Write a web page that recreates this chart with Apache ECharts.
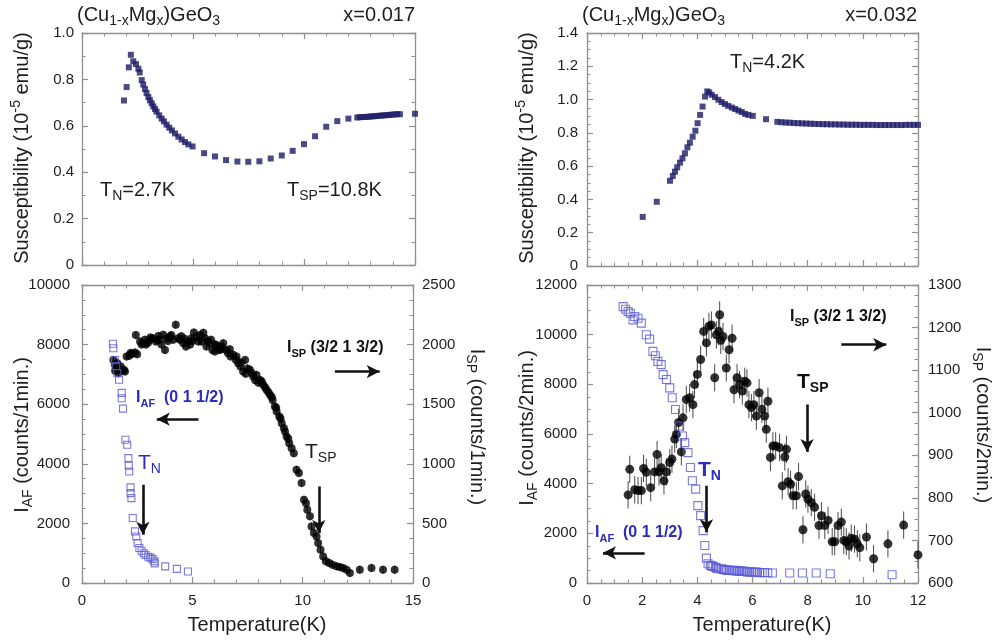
<!DOCTYPE html>
<html><head><meta charset="utf-8">
<script src="https://cdn.jsdelivr.net/npm/echarts/dist/echarts.min.js"></script>
<style>html,body{margin:0;padding:0;background:#fff;}#c{width:994px;height:643px;}</style>
</head><body><div id="c"></div>
<script>
// ---------- DATA ----------
// Susceptibility, x = 0.017  [T (K), chi (1e-5 emu/g)]
const chi017 = [[1.89,0.709],[2.01,0.767],[2.11,0.852],[2.20,0.906],[2.31,0.878],[2.43,0.866],[2.54,0.846],[2.60,0.830],[2.69,0.797],[2.76,0.778],[2.84,0.758],[2.91,0.741],[2.99,0.724],[3.06,0.710],[3.14,0.697],[3.21,0.684],[3.29,0.672],[3.36,0.661],[3.48,0.645],[3.59,0.631],[3.69,0.619],[3.81,0.605],[3.93,0.592],[4.05,0.580],[4.19,0.567],[4.34,0.553],[4.49,0.541],[4.64,0.530],[4.79,0.520],[4.98,0.511],[5.50,0.482],[5.99,0.468],[6.49,0.452],[7.00,0.446],[7.49,0.445],[7.99,0.447],[8.50,0.459],[9.00,0.472],[9.49,0.492],[10.00,0.521],[10.50,0.555],[11.00,0.596],[11.50,0.620],[12.00,0.631],[12.40,0.636],[12.52,0.637],[12.64,0.638],[12.76,0.638],[12.88,0.639],[13.00,0.640],[13.12,0.641],[13.24,0.642],[13.36,0.643],[13.48,0.644],[13.60,0.645],[13.72,0.646],[13.84,0.647],[13.96,0.648],[14.08,0.649],[14.20,0.650],[14.32,0.650],[15.00,0.652]];
// Susceptibility, x = 0.032
const chi032 = [[2.02,0.295],[2.53,0.386],[3.01,0.512],[3.11,0.541],[3.19,0.567],[3.27,0.593],[3.37,0.621],[3.46,0.647],[3.55,0.677],[3.64,0.713],[3.73,0.741],[3.83,0.777],[3.93,0.813],[4.01,0.858],[4.10,0.908],[4.19,0.958],[4.28,1.018],[4.36,1.049],[4.43,1.043],[4.52,1.029],[4.64,1.015],[4.76,0.999],[4.88,0.985],[5.00,0.973],[5.12,0.962],[5.25,0.952],[5.37,0.943],[5.49,0.934],[5.61,0.925],[5.73,0.914],[5.85,0.908],[6.01,0.902],[6.49,0.882],[6.90,0.866],[7.05,0.864],[7.20,0.862],[7.35,0.861],[7.50,0.859],[7.65,0.858],[7.80,0.857],[7.95,0.856],[8.10,0.855],[8.25,0.854],[8.40,0.853],[8.55,0.852],[8.70,0.852],[8.85,0.851],[9.00,0.851],[9.15,0.850],[9.30,0.850],[9.45,0.849],[9.60,0.849],[9.75,0.849],[9.90,0.848],[10.05,0.848],[10.20,0.848],[10.35,0.848],[10.50,0.847],[10.65,0.847],[10.80,0.847],[10.95,0.847],[11.10,0.847],[11.25,0.847],[11.40,0.847],[11.55,0.848],[11.70,0.848],[11.85,0.848],[12.00,0.848]];
// I_AF (0 1 1/2), x = 0.017, counts/1min  (left axis)
const iaf017 = [[1.40,8030],[1.42,7880],[1.49,7480],[1.55,7280],[1.60,7040],[1.68,6820],[1.80,6380],[1.80,6200],[1.86,5850],[1.97,4805],[2.05,4640],[2.10,4190],[2.12,3940],[2.14,3743],[2.20,3210],[2.20,3017],[2.24,2849],[2.30,2179],[2.40,1732],[2.46,1560],[2.52,1341],[2.60,1173],[2.70,1080],[2.80,1000],[2.88,940],[3.00,880],[3.10,850],[3.20,800],[3.28,726],[3.30,660],[3.77,559],[4.30,475],[4.80,385]];
// I_SP (3/2 1 3/2), x = 0.017, counts/1min  (right axis)
const isp017 = [[1.42,1871],[1.49,1830],[1.50,1780],[1.54,1802],[1.60,1844],[1.65,1760],[1.69,1794],[1.75,1816],[1.84,1783],[1.90,1790],[1.95,1775],[2.02,1900],[2.14,1906],[2.20,1930],[2.25,1922],[2.40,1933],[2.44,2080],[2.50,1920],[2.63,2026],[2.70,2000],[2.78,2012],[2.85,2040],[2.90,2000],[3.00,2018],[3.08,2040],[3.10,2060],[3.20,2054],[3.35,2026],[3.40,2040],[3.46,2073],[3.53,2040],[3.60,2000],[3.68,2082],[3.76,1955],[3.86,2054],[3.90,2030],[3.98,2068],[4.05,2080],[4.13,2040],[4.25,2166],[4.36,2054],[4.44,2040],[4.50,2070],[4.59,2012],[4.65,2050],[4.71,1984],[4.81,2026],[4.90,2000],[4.96,2054],[5.00,2030],[5.07,2101],[5.19,2068],[5.27,2026],[5.35,2080],[5.42,2026],[5.50,2100],[5.57,2054],[5.64,1984],[5.70,2030],[5.79,2012],[5.85,2040],[5.91,1955],[6.02,1942],[6.05,2000],[6.10,1990],[6.22,1955],[6.30,1960],[6.32,1984],[6.40,2012],[6.52,1955],[6.62,1928],[6.70,1960],[6.73,1900],[6.85,1914],[6.97,1872],[7.00,1900],[7.08,1844],[7.18,1816],[7.20,1850],[7.30,1774],[7.39,1871],[7.42,1755],[7.50,1800],[7.61,1788],[7.70,1760],[7.76,1732],[7.85,1700],[7.91,1746],[8.00,1680],[8.07,1704],[8.15,1690],[8.22,1662],[8.30,1640],[8.37,1620],[8.45,1600],[8.52,1578],[8.60,1560],[8.64,1536],[8.74,1480],[8.80,1470],[8.82,1438],[8.94,1397],[9.00,1380],[9.05,1341],[9.15,1299],[9.20,1270],[9.27,1229],[9.35,1210],[9.39,1173],[9.50,1131],[9.60,1089],[9.72,950],[9.83,922],[9.95,838],[10.06,698],[10.15,670],[10.21,614],[10.33,559],[10.40,475],[10.51,419],[10.63,391],[10.70,335],[10.81,279],[10.93,223],[11.05,182],[11.20,168],[11.35,154],[11.53,140],[11.68,134],[11.83,126],[11.99,112],[12.14,84],[12.59,112],[13.12,126],[13.64,112],[14.17,112]];
// I_AF (0 1 1/2), x = 0.032, counts/2min  (left axis)
const iaf032 = [[1.31,11131],[1.40,11024],[1.49,10931],[1.57,10864],[1.67,10597],[1.73,10731],[1.85,10664],[1.97,10463],[2.15,9996],[2.27,9822],[2.39,9327],[2.48,9154],[2.57,8926],[2.69,8793],[2.76,8392],[2.88,8192],[3.00,7857],[3.09,7457],[3.21,6989],[3.36,6321],[3.46,5920],[3.54,5652],[3.66,5252],[3.75,4650],[3.82,4116],[3.94,3782],[4.02,3114],[4.12,2713],[4.21,2111],[4.27,1510],[4.33,1002],[4.39,775],[4.47,708],[4.52,690],[4.57,668],[4.66,628],[4.70,600],[4.75,575],[4.87,575],[4.93,550],[4.99,535],[5.05,520],[5.11,508],[5.17,510],[5.23,508],[5.29,500],[5.35,508],[5.41,490],[5.47,481],[5.53,480],[5.60,481],[5.66,470],[5.72,468],[5.78,455],[5.84,441],[5.90,445],[5.96,441],[6.03,440],[6.11,441],[6.18,430],[6.26,414],[6.35,420],[6.44,414],[6.55,410],[6.72,401],[7.35,401],[7.81,401],[8.31,401],[8.82,374],[11.06,334]];
// I_SP (3/2 1 3/2), x = 0.032, counts/2min  (right axis)
const isp032 = [[1.49,807],[1.55,867],[1.73,819],[1.85,817],[1.97,817],[2.05,869],[2.15,860],[2.31,824],[2.45,861],[2.54,902],[2.61,861],[2.69,871],[2.79,840],[2.88,861],[3.00,883],[3.08,891],[3.18,938],[3.24,949],[3.32,977],[3.42,908],[3.48,988],[3.60,1031],[3.72,1035],[3.84,1019],[3.90,1066],[4.00,1090],[4.12,1125],[4.23,1191],[4.33,1164],[4.42,1203],[4.51,1206],[4.63,1082],[4.69,1183],[4.77,1191],[4.81,1230],[4.85,1170],[4.93,1179],[5.05,1105],[5.15,1148],[5.26,1175],[5.33,1054],[5.44,1082],[5.53,1066],[5.63,1051],[5.72,1074],[5.80,1070],[5.87,1019],[5.96,1012],[6.05,1019],[6.14,992],[6.24,1047],[6.34,1008],[6.44,992],[6.50,961],[6.56,1027],[6.65,895],[6.74,922],[6.84,922],[6.98,918],[7.08,828],[7.17,896],[7.23,914],[7.29,838],[7.38,832],[7.47,805],[7.59,805],[7.67,850],[7.83,725],[7.93,809],[8.01,797],[8.13,789],[8.25,778],[8.41,735],[8.50,758],[8.62,735],[8.74,747],[8.89,697],[8.98,697],[9.10,735],[9.22,743],[9.31,700],[9.40,697],[9.50,687],[9.58,705],[9.70,703],[9.80,692],[9.89,683],[10.13,708],[10.39,657],[10.91,692],[11.48,736],[12.00,666]];
// error bar half-widths (counts)
const ERR017 = 35;
const ERR032 = 32;
// annotation arrows [[x1,y1],[x2,y2]] in left-axis units
const arrows017 = [[[11.46,7095],[13.49,7095]],[[5.28,5497],[3.39,5497]],[[2.76,3296],[2.76,1620]],[[10.73,3240],[10.73,1676]]];
const arrows032 = [[[9.22,9595],[10.85,9595]],[[7.98,7189],[7.98,5278]],[[4.33,3915],[4.33,2045]],[[2.09,1216],[0.58,1216]]];

// ---------- STYLE ----------
const FONT = '"Liberation Sans", Arial, Helvetica, sans-serif';
const AXC = '#909090';
const TXT = '#1e1e1e';
const NAVY = '#1d1b66';
const BLUE_SQ = '#5a5ad6';
const BLUE_TX = '#2b2bbd';

const fInt = v => String(Math.round(v));
const f1 = v => v === 0 ? '0' : v.toFixed(1);

function xAx(grid, max, interval, split, pos, showLabel) {
  return {type:'value', gridIndex:grid, min:0, max:max, interval:interval, position:pos,
    axisLine:{show:true, onZero:false, lineStyle:{color:AXC, width:1.3}},
    axisTick:{show:true, inside:true, length:6, lineStyle:{color:AXC, width:1.2}},
    minorTick:{show:true, splitNumber:split, length:3.5, lineStyle:{color:AXC, width:1}},
    splitLine:{show:false}, minorSplitLine:{show:false},
    axisLabel:{show:showLabel, margin:10, color:TXT, fontSize:15, fontFamily:FONT, showMinLabel:true, showMaxLabel:true, formatter:fInt}};
}
function yAx(grid, min, max, interval, split, pos, showLabel, margin, fmt) {
  return {type:'value', gridIndex:grid, min:min, max:max, interval:interval, position:pos,
    axisLine:{show:true, onZero:false, lineStyle:{color:AXC, width:1.3}},
    axisTick:{show:true, inside:true, length:6, lineStyle:{color:AXC, width:1.2}},
    minorTick:{show:true, splitNumber:split, length:3.5, lineStyle:{color:AXC, width:1}},
    splitLine:{show:false}, minorSplitLine:{show:false},
    axisLabel:{show:showLabel, margin:margin, color:TXT, fontSize:15, fontFamily:FONT, showMinLabel:true, showMaxLabel:true, formatter:fmt || fInt}};
}

function errBars(data, err, xi, yi) {
  return {type:'custom', xAxisIndex:xi, yAxisIndex:yi, silent:true, z:2, animation:false,
    data: data.map(p => [p[0], p[1]-err, p[1]+err]),
    encode:{x:0, y:[1,2]},
    renderItem:(params, api) => {
      const a = api.coord([api.value(0), api.value(1)]);
      const b = api.coord([api.value(0), api.value(2)]);
      return {type:'line', shape:{x1:a[0], y1:a[1], x2:b[0], y2:b[1]}, style:{stroke:'#4a4a4a', lineWidth:1}};
    }};
}
function arrowLines(list) {
  return {silent:true, symbol:['none','arrow'], symbolSize:[10,13], animation:false,
    lineStyle:{color:'#111', width:2.6, type:'solid'}, label:{show:false}, emphasis:{disabled:true},
    data: list.map(a => [{coord:a[0]}, {coord:a[1]}])};
}

// rich text helper for graphic
function rt(x, y, text, size, color, weight, align, rot) {
  const subSize = Math.round(size*0.68);
  return {type:'text', x:x, y:y, rotation:rot||0, silent:true, z:100,
    style:{text:text, align:align||'left', verticalAlign:'middle', textAlign:align||'left', textVerticalAlign:'middle',
      rich:{
        a:{fontSize:size, fontFamily:FONT, fill:color, fontWeight:weight||'normal', lineHeight:size+6},
        b:{fontSize:subSize, fontFamily:FONT, fill:color, fontWeight:weight||'normal', lineHeight:subSize, verticalAlign:'bottom'},
        p:{fontSize:subSize, fontFamily:FONT, fill:color, fontWeight:weight||'normal', lineHeight:subSize, verticalAlign:'top'}
      }}};
}

const chart = echarts.init(document.getElementById('c'), null, {renderer:'canvas'});
const option = {
  backgroundColor:'#ffffff',
  animation:false,
  grid:[
    {left:82, top:33, width:333, height:232},
    {left:587, top:33, width:331, height:233},
    {left:82, top:285, width:331, height:298},
    {left:587, top:285, width:331, height:298}
  ],
  xAxis:[
    xAx(0, 15, 5, 5, 'bottom', false), xAx(0, 15, 5, 5, 'top', false),
    xAx(1, 12, 2, 4, 'bottom', false), xAx(1, 12, 2, 4, 'top', false),
    xAx(2, 15, 5, 5, 'bottom', true),  xAx(2, 15, 5, 5, 'top', false),
    xAx(3, 12, 2, 4, 'bottom', true),  xAx(3, 12, 2, 4, 'top', false)
  ],
  yAxis:[
    yAx(0, 0, 1.0, 0.2, 2, 'left', true, 8, f1), yAx(0, 0, 1.0, 0.2, 2, 'right', false, 8),
    yAx(1, 0, 1.4, 0.2, 4, 'left', true, 9, f1), yAx(1, 0, 1.4, 0.2, 4, 'right', false, 8),
    yAx(2, 0, 10000, 2000, 4, 'left', true, 12), yAx(2, 0, 2500, 500, 4, 'right', true, 9),
    yAx(3, 0, 12000, 2000, 4, 'left', true, 10), yAx(3, 600, 1300, 100, 4, 'right', true, 10)
  ],
  series:[
    {type:'scatter', xAxisIndex:0, yAxisIndex:0, data:chi017, symbol:'rect', symbolSize:6, itemStyle:{color:NAVY}, silent:true},
    {type:'scatter', xAxisIndex:2, yAxisIndex:2, data:chi032, symbol:'rect', symbolSize:6, itemStyle:{color:NAVY}, silent:true},
    {type:'scatter', xAxisIndex:4, yAxisIndex:4, data:iaf017, symbol:'rect', symbolSize:7, z:4,
      itemStyle:{color:'rgba(255,255,255,0)', borderColor:BLUE_SQ, borderWidth:1.1}, silent:true,
      markLine: arrowLines(arrows017)},
    errBars(isp017, ERR017, 4, 5),
    {type:'scatter', xAxisIndex:4, yAxisIndex:5, data:isp017, symbol:'circle', symbolSize:8, z:3, itemStyle:{color:'#000'}, silent:true},
    {type:'scatter', xAxisIndex:6, yAxisIndex:6, data:iaf032, symbol:'rect', symbolSize:8, z:4,
      itemStyle:{color:'rgba(255,255,255,0)', borderColor:BLUE_SQ, borderWidth:1.1}, silent:true,
      markLine: arrowLines(arrows032)},
    errBars(isp032, ERR032, 6, 7),
    {type:'scatter', xAxisIndex:6, yAxisIndex:7, data:isp032, symbol:'circle', symbolSize:9, z:3, itemStyle:{color:'#000'}, silent:true}
  ],
  graphic:[
    // titles
    rt(77, 15, '{a|(Cu}{b|1-x}{a|Mg}{b|x}{a|)GeO}{b|3}', 20, TXT),
    rt(415, 15, '{a|x=0.017}', 20, TXT, 'normal', 'right'),
    rt(582, 15, '{a|(Cu}{b|1-x}{a|Mg}{b|x}{a|)GeO}{b|3}', 20, TXT),
    rt(917, 15, '{a|x=0.032}', 20, TXT, 'normal', 'right'),
    // y-axis names
    rt(22, 148, '{a|Susceptibility (10}{p|-5}{a| emu/g)}', 20, TXT, 'normal', 'center', Math.PI/2),
    rt(527, 148, '{a|Susceptibility (10}{p|-5}{a| emu/g)}', 20, TXT, 'normal', 'center', Math.PI/2),
    rt(22, 435, '{a|I}{b|AF}{a| (counts/1min.)}', 20, TXT, 'normal', 'center', Math.PI/2),
    rt(477, 427, '{a|I}{b|SP}{a| (counts/1min.)}', 20, TXT, 'normal', 'center', -Math.PI/2),
    rt(527, 428, '{a|I}{b|AF}{a| (counts/2min.)}', 20, TXT, 'normal', 'center', Math.PI/2),
    rt(983, 425, '{a|I}{b|SP}{a| (counts/2min.)}', 20, TXT, 'normal', 'center', -Math.PI/2),
    // x-axis names
    rt(257, 625, '{a|Temperature(K)}', 20, TXT, 'normal', 'center'),
    rt(762, 625, '{a|Temperature(K)}', 20, TXT, 'normal', 'center'),
    // top panel annotations
    rt(100, 190, '{a|T}{b|N}{a|=2.7K}', 20, TXT),
    rt(287, 190, '{a|T}{b|SP}{a|=10.8K}', 20, TXT),
    rt(730, 62, '{a|T}{b|N}{a|=4.2K}', 20, TXT),
    // bottom-left annotations
    rt(287, 348, '{a|I}{b|SP}{a| (3/2 1 3/2)}', 16, '#111', 'bold'),
    rt(136, 398, '{a|I}{b|AF}{a|  (0 1 1/2)}', 16, BLUE_TX, 'bold'),
    rt(138, 463, '{a|T}{b|N}', 21, BLUE_TX),
    rt(305, 452, '{a|T}{b|SP}', 21, TXT),
    // bottom-right annotations
    rt(790, 317, '{a|I}{b|SP}{a| (3/2 1 3/2)}', 16, '#111', 'bold'),
    rt(797, 382, '{a|T}{b|SP}', 21, '#111', 'bold'),
    rt(698, 470, '{a|T}{b|N}', 21, BLUE_TX, 'bold'),
    rt(595, 533, '{a|I}{b|AF}{a|  (0 1 1/2)}', 16, BLUE_TX, 'bold')
  ]
};
chart.setOption(option);
</script>
</body></html>
